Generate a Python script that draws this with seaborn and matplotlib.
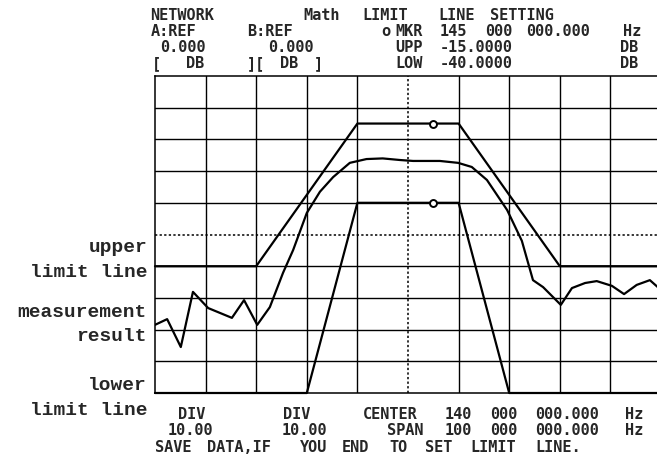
import numpy as np
import pandas as pd
import matplotlib
matplotlib.use("Agg")
import matplotlib.pyplot as plt
import seaborn as sns

# Network analyser screen: limit line setting, 10 dB/div, 10 MHz/div
freq_mhz = [90, 92.4, 95.1, 97.5, 100.5, 105.2, 107.6, 110.2, 112.7, 115.3, 117.3,
            120, 122.6, 125.2, 128.5, 131.8, 135, 138.4, 141, 146.3, 149.9, 152.6,
            155.6, 159.6, 162.5, 164.7, 166.7, 170.2, 172.4, 175, 177.3, 180.3,
            182.7, 185.2, 187.8, 190]
meas_db = [-78.5, -76.7, -85.5, -68.1, -73.2, -76.3, -70.7, -78.5, -72.9, -62.1, -54.9,
           -43.2, -36.5, -31.9, -27.4, -26.2, -26.0, -26.5, -26.8, -26.8, -27.4, -28.7,
           -32.8, -42.3, -52.0, -64.4, -66.6, -72.2, -66.9, -65.3, -64.7, -66.2,
           -68.8, -65.9, -64.4, -67.5]

upper_f = [90, 110, 130, 150, 170, 190]
upper_db = [-60, -60, -15, -15, -60, -60]
lower_f = [90, 120, 130, 150, 160, 190]
lower_db = [-100, -100, -40, -40, -100, -100]

marker_f = [145, 145]
marker_db = [-15, -40]

W, H = 657, 462
sns.set_style("white")
plt.rcParams["font.family"] = ["DejaVu Sans Mono", "DejaVu Sans"]

fig = plt.figure(figsize=(W / 100, H / 100), dpi=100)
ax = fig.add_axes([155 / W, 1 - 393 / H, 506 / W, 317 / H])

ax.set_xlim(90, 190)
ax.set_ylim(-100, 0)
ax.set_xticks([100, 110, 120, 130, 150, 160, 170, 180])
ax.set_yticks([-90, -80, -70, -60, -40, -30, -20, -10])
ax.set_xticklabels([])
ax.set_yticklabels([])
ax.tick_params(length=0)
ax.grid(True, color="black", lw=1.0)
ax.axvline(140, color="black", lw=1.1, ls=(0, (1.5, 1.5)))
ax.axhline(-50, color="black", lw=1.1, ls=(0, (1.5, 1.5)))
for side in ["left", "top", "bottom"]:
    ax.spines[side].set_color("black")
    ax.spines[side].set_linewidth(1.1)
ax.spines["right"].set_visible(False)

sns.lineplot(x=upper_f, y=upper_db, ax=ax, color="black", lw=1.6,
             estimator=None, sort=False, clip_on=False)
sns.lineplot(x=lower_f, y=lower_db, ax=ax, color="black", lw=1.6,
             estimator=None, sort=False, clip_on=False)
sns.lineplot(x=freq_mhz, y=meas_db, ax=ax, color="black", lw=1.6,
             estimator=None, sort=False)
ax.plot(marker_f, marker_db, ls="none", marker="o", ms=5, mfc="white",
        mec="black", mew=1.4, zorder=5)


def put(x, y, s, **kw):
    fig.text(x / W, 1 - y / H, s, va="baseline", **kw)


screen = dict(fontsize=11, fontweight="bold", family=["DejaVu Sans Mono", "DejaVu Sans"])

header = [
    (150, 20, "NETWORK"), (303, 20, "Math"), (362, 20, "LIMIT"), (438, 20, "LINE"),
    (490, 20, "SETTING"),
    (151, 36, "A:REF"), (247, 36, "B:REF"), (381, 36, "o"), (395, 36, "MKR"),
    (440, 36, "145"), (485, 36, "000"), (526, 36, "000.000"), (623, 36, "Hz"),
    (160, 52, "0.000"), (268, 52, "0.000"), (395, 52, "UPP"), (440, 52, "-15.0000"),
    (620, 52, "DB"),
    (152, 68, "["), (186, 68, "DB"), (247, 68, "]["), (280, 68, "DB"), (314, 68, "]"),
    (395, 68, "LOW"), (440, 68, "-40.0000"), (620, 68, "DB"),
]
footer = [
    (178, 419, "DIV"), (283, 419, "DIV"), (363, 419, "CENTER"), (445, 419, "140"),
    (490, 419, "000"), (535, 419, "000.000"), (625, 419, "Hz"),
    (168, 435, "10.00"), (282, 435, "10.00"), (387, 435, "SPAN"), (445, 435, "100"),
    (490, 435, "000"), (535, 435, "000.000"), (625, 435, "Hz"),
    (155, 452, "SAVE"), (207, 452, "DATA,IF"), (300, 452, "YOU"), (342, 452, "END"),
    (389, 452, "TO"), (425, 452, "SET"), (470, 452, "LIMIT"), (535, 452, "LINE."),
]
for x, y, s in header + footer:
    put(x, y, s, **screen)

labels = [
    (252, "upper"), (277, "limit line"), (317, "measurement"), (341, "result"),
    (390, "lower"), (415, "limit line"),
]
for y, s in labels:
    put(147, y, s, ha="right", fontsize=14, fontweight="bold",
        family=["Liberation Mono", "DejaVu Sans Mono"])

fig.savefig("out.png", dpi=100)
